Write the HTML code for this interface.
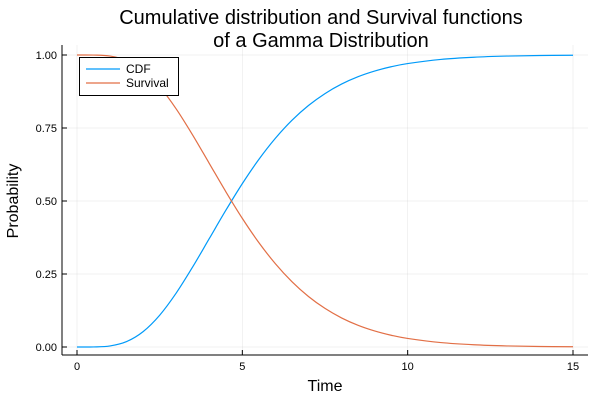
<!DOCTYPE html>
<html><head><meta charset="utf-8"><style>
body{margin:0;background:#fff}
svg{display:block;font-family:"Liberation Sans","DejaVu Sans",sans-serif}
</style></head><body>
<svg id="chart" width="600" height="400" viewBox="0 0 600 400">
<text x="321" y="24" font-size="20" text-anchor="middle" fill="#000">Cumulative distribution and Survival functions</text>
<text x="321" y="47" font-size="20" text-anchor="middle" fill="#000">of a Gamma Distribution</text>
<g id="grid"></g>
<g id="axes"></g>
<g id="series"></g>
<text x="325" y="391" font-size="16" text-anchor="middle">Time</text>
<text x="18" y="201" font-size="16" text-anchor="middle" transform="rotate(-90 18 201)">Probability</text>
<g>
<rect x="79.5" y="57.5" width="99" height="38" fill="#fff" stroke="#000" stroke-width="1"/>
<line x1="86" y1="69" x2="120" y2="69" stroke="#009af9" stroke-width="1.2"/>
<text x="126" y="73" font-size="12">CDF</text>
<line x1="86" y1="83" x2="120" y2="83" stroke="#e26f46" stroke-width="1.2"/>
<text x="126" y="87" font-size="12">Survival</text>
</g>
</svg>
<script>
const times=[0,0.5,1,1.5,2,2.5,3,3.5,4,4.5,5,5.5,6,6.5,7,7.5,8,8.5,9,9.5,10,11,12,13,14,15];
const cdfValues=[0,0.0002,0.0037,0.0186,0.0527,0.1088,0.1847,0.2745,0.3712,0.4679,0.5595,0.6425,0.7149,0.7763,0.8270,0.8679,0.9004,0.9257,0.9450,0.9597,0.9707,0.9849,0.9924,0.9963,0.9982,0.9991];
const survivalValues=[1,0.9998,0.9963,0.9814,0.9473,0.8912,0.8153,0.7255,0.6288,0.5321,0.4405,0.3575,0.2851,0.2237,0.1730,0.1321,0.0996,0.0743,0.0550,0.0403,0.0293,0.0151,0.0076,0.0037,0.0018,0.0009];
const xTicks=[0,5,10,15];
const yTicks=[0,0.25,0.5,0.75,1];
const yTickLabels=["0.00","0.25","0.50","0.75","1.00"];
const NS="http://www.w3.org/2000/svg";
const xs=v=>77+v*(573-77)/15;
const ys=v=>347-v*(347-55);
const L=62,R=588,T=45,B=355;
function mk(tag,attrs,parent){const e=document.createElementNS(NS,tag);for(const k in attrs)e.setAttribute(k,attrs[k]);parent.appendChild(e);return e;}
const grid=document.getElementById('grid'),axes=document.getElementById('axes'),series=document.getElementById('series');
xTicks.forEach(t=>{
 const g=mk('line',{x1:xs(t),x2:xs(t),y1:T,y2:B,stroke:'#000','stroke-opacity':0.1,'stroke-width':0.5},grid);
 
 
 const tk=mk('line',{x1:xs(t),x2:xs(t),y1:B,y2:B-5,stroke:'#000'},axes);
 
 
 const tx=mk('text',{x:xs(t),y:B+15,'font-size':11,'text-anchor':'middle'},axes);
 tx.textContent=t;
 
 
});
yTicks.forEach((t,i)=>{
 const g=mk('line',{x1:L,x2:R,y1:ys(t),y2:ys(t),stroke:'#000','stroke-opacity':0.1,'stroke-width':0.5},grid);
 
 
 const tk=mk('line',{x1:L,x2:L+5,y1:ys(t),y2:ys(t),stroke:'#000'},axes);
 
 
 const tx=mk('text',{x:L-5,y:ys(t)+4,'font-size':11,'text-anchor':'end'},axes);
 tx.textContent=yTickLabels[i];
 
 
});
const xa=mk('line',{x1:L,x2:R,y1:B,y2:B,stroke:'#000'},axes);


const ya=mk('line',{x1:L,x2:L,y1:T,y2:B,stroke:'#000'},axes);


function pathFor(vals){
 const p=vals.map((v,i)=>[xs(times[i]),ys(v)]);
 let d='M'+p[0][0].toFixed(2)+','+p[0][1].toFixed(2);
 for(let i=0;i<p.length-1;i++){
  const p0=p[Math.max(i-1,0)],p1=p[i],p2=p[i+1],p3=p[Math.min(i+2,p.length-1)];
  const c1x=p1[0]+(p2[0]-p0[0])/6,c1y=p1[1]+(p2[1]-p0[1])/6;
  const c2x=p2[0]-(p3[0]-p1[0])/6,c2y=p2[1]-(p3[1]-p1[1])/6;
  d+=' C'+c1x.toFixed(2)+','+c1y.toFixed(2)+' '+c2x.toFixed(2)+','+c2y.toFixed(2)+' '+p2[0].toFixed(2)+','+p2[1].toFixed(2);
 }
 return d;
}
const c=mk('path',{d:pathFor(cdfValues),fill:'none',stroke:'#009af9','stroke-width':1.2,'stroke-linejoin':'round'},series);


const s=mk('path',{d:pathFor(survivalValues),fill:'none',stroke:'#e26f46','stroke-width':1.2,'stroke-linejoin':'round'},series);


</script>
</body></html>
